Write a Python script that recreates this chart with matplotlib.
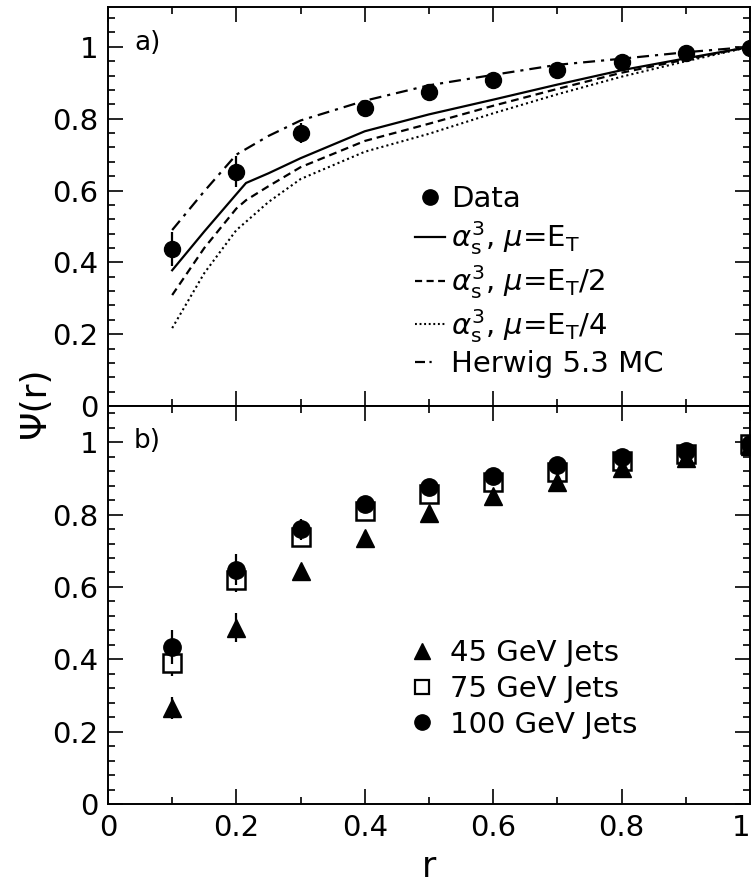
import matplotlib
matplotlib.use("Agg")
import matplotlib.pyplot as plt
from matplotlib.lines import Line2D
from matplotlib.ticker import MultipleLocator, FuncFormatter

# r values of the measured points
r = [0.1, 0.2, 0.3, 0.4, 0.5, 0.6, 0.7, 0.8, 0.9, 1.0]

# panel a) data and predictions
data_psi = [0.438, 0.652, 0.760, 0.830, 0.875, 0.908, 0.936, 0.958, 0.982, 0.997]
data_err = [0.047, 0.043, 0.028, 0.020, 0.015, 0.012, 0.010, 0.008, 0.006, 0.003]

r_curve = [0.1, 0.15, 0.2, 0.215, 0.25, 0.3, 0.4, 0.5, 0.6, 0.7, 0.8, 0.9, 1.0]
nlo_et = [0.378, 0.486, 0.59, 0.621, 0.648, 0.69, 0.765, 0.812, 0.853, 0.895, 0.935, 0.968, 1.0]
nlo_et2 = [0.309, 0.44, 0.55, 0.573, 0.612, 0.665, 0.738, 0.786, 0.836, 0.883, 0.928, 0.965, 1.0]
nlo_et4 = [0.217, 0.37, 0.49, 0.513, 0.568, 0.632, 0.708, 0.758, 0.815, 0.868, 0.917, 0.960, 1.0]
r_herwig = [0.1, 0.15, 0.2, 0.25, 0.3, 0.4, 0.5, 0.6, 0.7, 0.8, 0.9, 1.0]
herwig = [0.49, 0.598, 0.70, 0.752, 0.795, 0.850, 0.893, 0.922, 0.950, 0.967, 0.985, 1.0]

# panel b) jet energy dependence
psi_45 = [0.265, 0.487, 0.643, 0.734, 0.803, 0.850, 0.889, 0.928, 0.957, 0.990]
err_45 = [0.030, 0.040, 0.020, 0.020, 0.015, 0.012, 0.010, 0.010, 0.008, 0.004]
psi_75 = [0.390, 0.620, 0.737, 0.810, 0.856, 0.889, 0.917, 0.947, 0.967, 0.994]
err_75 = [0.035, 0.035, 0.025, 0.020, 0.015, 0.012, 0.010, 0.008, 0.006, 0.003]
psi_100 = [0.435, 0.648, 0.759, 0.828, 0.876, 0.908, 0.936, 0.960, 0.975, 0.995]
err_100 = [0.047, 0.043, 0.028, 0.020, 0.015, 0.012, 0.010, 0.008, 0.006, 0.003]

x_ticks = [0, 0.2, 0.4, 0.6, 0.8, 1.0]
x_ticklabels = ['0', '0.2', '0.4', '0.6', '0.8', '1']

FS = 21
plt.rcParams['font.family'] = 'DejaVu Sans'
plt.rcParams['mathtext.fontset'] = 'dejavusans'

fig = plt.figure(figsize=(7.53, 8.85), dpi=100)
ax1 = fig.add_axes([0.1434, 0.5412, 0.8526, 0.4509])
ax2 = fig.add_axes([0.1434, 0.0915, 0.8526, 0.4497])

fmt = FuncFormatter(lambda v, p: '%g' % round(v, 2))

for ax in (ax1, ax2):
    ax.set_xlim(0, 1)
    ax.set_xticks(x_ticks)
    ax.xaxis.set_minor_locator(MultipleLocator(0.1))
    ax.yaxis.set_major_locator(MultipleLocator(0.2))
    ax.yaxis.set_minor_locator(MultipleLocator(0.04))
    ax.yaxis.set_major_formatter(fmt)
    ax.tick_params(which='both', direction='in', top=True, right=True,
                   width=1.2, labelsize=FS, pad=7)
    ax.tick_params(which='major', length=11)
    ax.tick_params(which='minor', length=5)
    for s in ax.spines.values():
        s.set_linewidth(1.4)

ax1.set_ylim(0, 1.111)
ax2.set_ylim(0, 1.10)
ax1.tick_params(labelbottom=False)
ax2.set_xticklabels(x_ticklabels)
# keep the "1" inside the figure
ax2.get_xticklabels()[-1].set_horizontalalignment('right')

# panel a
ax1.plot(r_curve, nlo_et, color='black', lw=1.6, ls='-')
ax1.plot(r_curve, nlo_et2, color='black', lw=1.6, ls=(0, (3.5, 2.2)))
ax1.plot(r_curve, nlo_et4, color='black', lw=1.5, ls=(0, (1, 1.5)))
ax1.plot(r_herwig, herwig, color='black', lw=1.6, ls=(0, (5.4, 2.7, 1.4, 2.7)))
ax1.errorbar(r, data_psi, yerr=data_err, fmt='o', color='black', ms=11.5,
             elinewidth=1.6, capsize=0, zorder=5)

h1 = [Line2D([], [], marker='o', color='black', ls='none', ms=11),
      Line2D([], [], color='black', lw=1.6, ls='-'),
      Line2D([], [], color='black', lw=1.6, ls=(0, (3.2, 2))),
      Line2D([], [], color='black', lw=1.5, ls=(0, (0.9, 1.3))),
      Line2D([], [], color='black', lw=1.6, ls=(0, (4.5, 2, 1, 10)))]
l1 = ['Data',
      r'$\alpha_\mathrm{s}^3$, $\mu$=E$_\mathrm{T}$',
      r'$\alpha_\mathrm{s}^3$, $\mu$=E$_\mathrm{T}$/2',
      r'$\alpha_\mathrm{s}^3$, $\mu$=E$_\mathrm{T}$/4',
      'Herwig 5.3 MC']
ax1.legend(h1, l1, loc='upper left', bbox_to_anchor=(0.478, 0.553),
           frameon=False, fontsize=FS, borderpad=0, borderaxespad=0,
           handlelength=1.05, handletextpad=0.2, labelspacing=0.2)
ax1.text(0.061, 1.011, 'a)', fontsize=19, ha='center', va='center')

# panel b
ax2.errorbar(r, psi_75, yerr=err_75, fmt='s', color='black', mfc='white',
             mec='black', mew=1.8, ms=12.5, elinewidth=1.6, capsize=0, zorder=3)
ax2.errorbar(r, psi_45, yerr=err_45, fmt='^', color='black', ms=13,
             elinewidth=1.6, capsize=0, zorder=4)
ax2.errorbar(r, psi_100, yerr=err_100, fmt='o', color='black', ms=12.5,
             elinewidth=1.6, capsize=0, zorder=5)

h2 = [Line2D([], [], marker='^', color='black', ls='none', ms=11),
      Line2D([], [], marker='s', color='black', mfc='white', mew=1.6, ls='none', ms=10.5),
      Line2D([], [], marker='o', color='black', ls='none', ms=11)]
l2 = ['45 GeV Jets', '75 GeV Jets', '100 GeV Jets']
ax2.legend(h2, l2, loc='upper left', bbox_to_anchor=(0.465, 0.415),
           frameon=False, fontsize=FS, borderpad=0, borderaxespad=0,
           handlelength=1.05, handletextpad=0.45, labelspacing=0.27)
ax2.text(0.061, 1.003, 'b)', fontsize=19, ha='center', va='center')

ax2.set_xlabel('r', fontsize=25, labelpad=6)
fig.text(0.046, 0.545, 'Ψ(r)', fontsize=26, rotation=90,
         ha='center', va='center')

fig.savefig('out.png', dpi=100)
